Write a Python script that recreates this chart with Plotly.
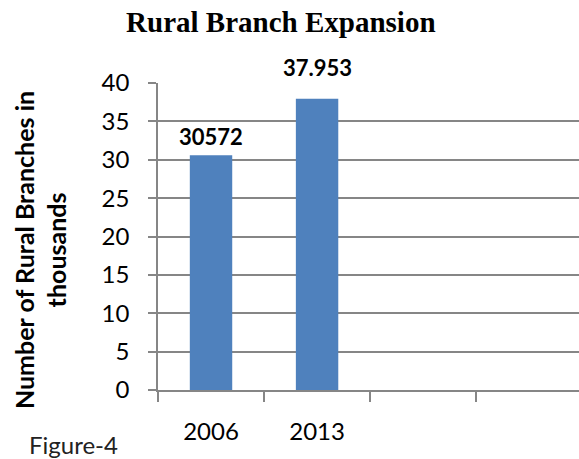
import plotly.graph_objects as go

categories = ["2006", "2013"]
empty_slots = [" ", "  "]
values = [30.572, 37.953]
value_labels = ["30572", "37.953"]
label_shifts = [3, 16]
y_ticks = [0, 5, 10, 15, 20, 25, 30, 35, 40]

fig = go.Figure()
fig.add_trace(go.Bar(
    x=categories, y=values,
    marker=dict(color="#4F81BD", line=dict(width=0)),
    showlegend=False,
))

for i, (v, t, s) in enumerate(zip(values, value_labels, label_shifts)):
    fig.add_annotation(
        x=i, y=v, xref="x", yref="y", text="<b>%s</b>" % t,
        showarrow=False, yanchor="bottom", yshift=s,
        font=dict(family="Lato", size=22, color="#000000"),
    )

fig.add_annotation(
    xref="paper", yref="paper", x=0, y=0.456, xshift=-118,
    text="<b>Number of Rural Branches in<br>thousands</b>",
    textangle=-90, showarrow=False, xanchor="center", yanchor="middle",
    font=dict(family="Lato", size=25, color="#000000"),
)

fig.add_annotation(
    xref="paper", yref="paper", x=0, y=0, xshift=-131, yshift=-54,
    text="Figure-4", showarrow=False, xanchor="left", yanchor="middle",
    font=dict(family="Lato", size=24, color="#222222"),
)

fig.update_layout(
    width=579, height=459,
    margin=dict(l=158, r=0, t=83, b=69),
    paper_bgcolor="white", plot_bgcolor="white",
    bargap=0.6,
    title=dict(
        text="<b>Rural Branch Expansion</b>",
        x=0.485, xanchor="center", y=1 - 22 / 459, yanchor="middle",
        xref="container", yref="container",
        font=dict(family="Liberation Serif", size=29, color="#000000"),
    ),
    xaxis=dict(
        type="category",
        categoryorder="array",
        categoryarray=categories + empty_slots,
        range=[-0.5, 3.47],
        tickson="boundaries",
        ticks="outside", ticklen=10, tickcolor="#868686", tickwidth=1.5,
        showline=True, linecolor="#868686", linewidth=1.5,
        showgrid=False,
        ticklabelstandoff=19,
        tickfont=dict(family="Lato", size=24, color="#000000"),
    ),
    yaxis=dict(
        range=[0, 40],
        tickvals=y_ticks,
        ticks="outside", ticklen=8, tickcolor="#868686", tickwidth=1.5,
        showline=True, linecolor="#868686", linewidth=1.5,
        showgrid=True, gridcolor="#868686", gridwidth=1.5,
        zeroline=False,
        ticklabelstandoff=14,
        tickfont=dict(family="Lato", size=24, color="#000000"),
    ),
)

fig.write_html("out.html")
